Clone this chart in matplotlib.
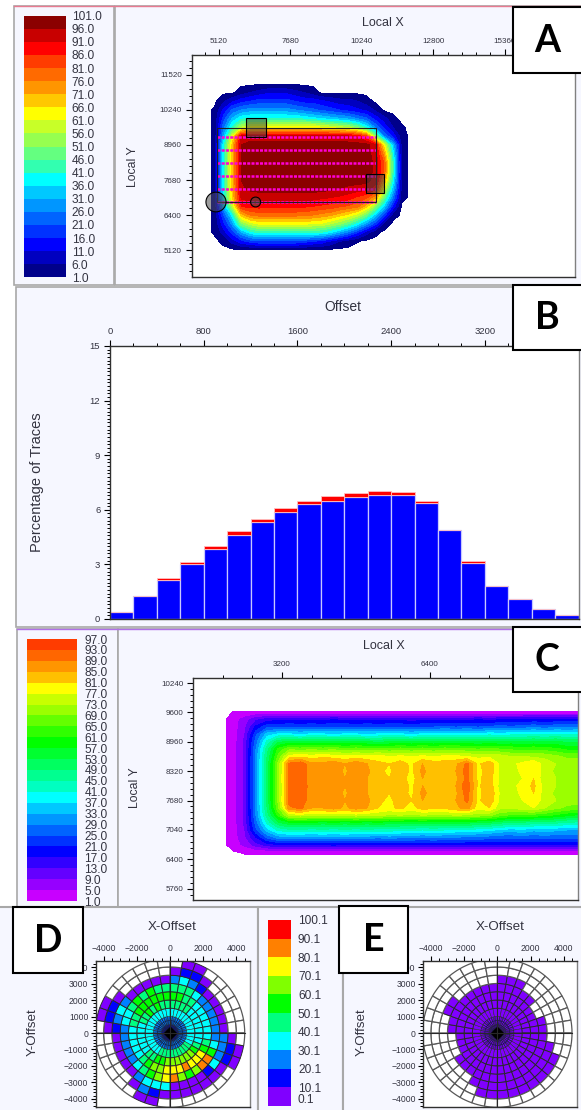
import numpy as np
import matplotlib
matplotlib.use('Agg')
import matplotlib.pyplot as plt
from matplotlib.colors import BoundaryNorm, ListedColormap
from matplotlib.patches import Circle, Rectangle, Wedge
from matplotlib.ticker import MultipleLocator

plt.rcParams['font.family'] = ['Liberation Sans', 'DejaVu Sans']

W, H = 581, 1110
TXT = '#333340'
BG = '#f6f7ff'

# panel A: fold map and legend
a_levels = [1, 6, 11, 16, 21, 26, 31, 36, 41, 46, 51, 56, 61, 66, 71, 76, 81, 86, 91, 96, 101]
a_colors = ['#00008b', '#0000c0', '#0000ff', '#0032ff', '#0064ff', '#0096ff', '#00c8ff',
            '#00ffff', '#32ffb0', '#64ff80', '#96ff50', '#c8ff28', '#ffff00', '#ffc800',
            '#ff9500', '#ff6a00', '#ff3c00', '#ff0000', '#c80000', '#8b0000']
a_x = [4640 + 320 * i for i in range(24)]
a_y = [11200 - 320 * i for i in range(20)]
a_fold = [
    [0] * 24,
    [0, 0, 0, 0, 3, 6, 8, 10, 10, 10, 8, 6, 3, 0, 0, 0, 0, 0, 0, 0, 0, 0, 0, 0],
    [0, 0, 5, 10, 14, 16, 18, 18, 18, 18, 16, 14, 14, 12, 10, 8, 8, 6, 3, 0, 0, 0, 0, 0],
    [0, 1.5, 12, 22, 26, 28, 28, 28, 28, 28, 26, 24, 22, 20, 18, 16, 14, 12, 10, 5, 0, 0, 0, 0],
    [0, 1.5, 18, 32, 40, 42, 42, 42, 42, 42, 42, 40, 38, 36, 34, 32, 30, 26, 22, 14, 8, 2, 0, 0],
    [0, 1.5, 24, 42, 56, 62, 64, 64, 64, 64, 64, 64, 64, 62, 60, 58, 56, 50, 40, 26, 14, 6, 1.5, 0],
    [0, 1.5, 30, 60, 92, 93, 93, 93, 93, 93, 93, 93, 93, 93, 93, 93, 92, 90, 82, 52, 26, 14, 2.5, 0],
    [0, 1.5, 38, 68, 96, 98, 98, 98, 98, 98, 98, 98, 98, 98, 98, 98, 98, 98, 98, 92, 62, 32, 3, 0],
    [0, 1.5, 38, 68, 96, 98, 98, 98, 98, 98, 98, 98, 98, 98, 98, 98, 98, 98, 98, 94, 72, 38, 3, 0],
    [0, 1.5, 38, 68, 96, 98, 98, 98, 98, 98, 98, 98, 98, 98, 98, 98, 98, 98, 98, 95, 80, 42, 3, 0],
    [0, 1.5, 38, 68, 96, 98, 98, 98, 98, 98, 98, 98, 98, 98, 98, 98, 98, 98, 98, 95, 80, 42, 3, 0],
    [0, 1.5, 38, 68, 96, 98, 98, 98, 98, 98, 98, 98, 98, 98, 98, 98, 98, 98, 98, 94, 72, 38, 3, 0],
    [0, 1.5, 38, 68, 95, 97, 98, 98, 98, 98, 98, 98, 98, 98, 97, 96, 95, 94, 93, 88, 60, 32, 3, 0],
    [0, 1.5, 36, 66, 92, 93, 93, 93, 93, 93, 93, 93, 93, 92, 91, 90, 88, 85, 82, 72, 48, 24, 2.5, 0],
    [0, 1.5, 30, 56, 86, 88, 88, 87, 87, 87, 87, 87, 86, 85, 84, 82, 80, 78, 68, 52, 34, 14, 0, 0],
    [0, 1.5, 20, 38, 68, 76, 78, 78, 78, 78, 78, 77, 76, 74, 72, 68, 64, 58, 48, 34, 18, 3, 0, 0],
    [0, 1.5, 14, 28, 50, 58, 62, 62, 62, 62, 62, 62, 61, 60, 56, 52, 46, 38, 28, 18, 4, 0, 0, 0],
    [0, 1.5, 8, 18, 30, 38, 42, 42, 42, 42, 42, 42, 41, 40, 36, 30, 24, 16, 8, 2, 0, 0, 0, 0],
    [0, 0, 2, 8, 14, 18, 20, 20, 20, 20, 20, 18, 16, 14, 10, 6, 3, 1.2, 0, 0, 0, 0, 0, 0],
    [0] * 24,
]
a_src_y = [9250, 8780, 8300, 7830, 7350, 6880]
a_src_x = [5040, 10750]
a_src_top = 9590
a_circle_x = [5012, 6432]
a_circle_y = [6876, 6876]
a_circle_r = [360, 180]
a_box_x = [6088, 10375]
a_box_y = [9253, 7205]
a_box_w = [699, 664]
a_box_h = [694, 695]

# panel B: offset histogram
b_blue = [0.40, 1.27, 2.15, 3.00, 3.83, 4.62, 5.32, 5.89, 6.31, 6.51,
          6.72, 6.83, 6.83, 6.40, 4.88, 3.08, 1.83, 1.08, 0.53, 0.22]
b_red = [0, 0, 0.12, 0.15, 0.19, 0.22, 0.18, 0.20, 0.20, 0.24,
         0.23, 0.20, 0.14, 0.11, 0, 0.12, 0, 0, 0, 0]
b_left = [200 * i for i in range(20)]

# panel C: fold map and legend
c_levels = [1, 5, 9, 13, 17, 21, 25, 29, 33, 37, 41, 45, 49, 53, 57, 61, 65, 69, 73, 77, 81, 85, 89, 93, 97]
c_colors = ['#c800ff', '#9600ff', '#6400ff', '#3200ff', '#0000ff', '#0032ff', '#0064ff', '#0096ff',
            '#00c8ff', '#00ffff', '#00ffc0', '#00ff90', '#00ff60', '#00ff30', '#00ff00', '#30ff00',
            '#64ff00', '#9bff00', '#c8ff00', '#ffff00', '#ffc000', '#ff9500', '#ff6600', '#ff3c00']
c_x = [1920 + 240 * i for i in range(33)]
c_y = [9760 - 160 * i for i in range(22)]
c_fold = [
    [0] * 33,
    [0] + [1.2] * 32,
    [0, 3, 7, 12, 15, 16, 16, 16, 16, 16, 17, 16, 16, 16, 16, 16, 16, 15, 16, 16, 16, 16, 16, 17, 16, 17, 17, 17, 18, 18, 18, 18, 18],
    [0, 3, 8, 18, 24, 24, 25, 24, 25, 24, 25, 25, 24, 25, 24, 25, 25, 24, 25, 25, 26, 25, 26, 25, 26, 27, 26, 27, 28, 27, 28, 28, 28],
    [0, 3, 9, 24, 35, 38, 38, 37, 38, 38, 37, 38, 38, 37, 38, 38, 38, 37, 38, 38, 39, 38, 39, 38, 40, 39, 40, 40, 41, 40, 41, 40, 41],
    [0, 3, 10, 27, 42, 52, 54, 53, 54, 53, 54, 53, 54, 53, 52, 53, 54, 53, 54, 53, 54, 53, 54, 53, 54, 53, 54, 53, 54, 53, 54, 52, 52],
    [0, 3, 10, 29, 47, 62, 68, 67, 68, 67, 68, 66, 67, 66, 67, 66, 67, 66, 67, 66, 67, 67, 66, 65, 66, 65, 64, 63, 64, 63, 62, 60, 60],
    [0, 3, 10, 30, 49, 66, 79, 80, 79, 80, 79, 78, 79, 78, 79, 77, 78, 77, 78, 77, 78, 78, 77, 76, 76, 75, 73, 73, 72, 72, 70, 68, 68],
    [0, 3, 10, 30, 50, 70, 90, 92, 86, 86, 88, 85, 88, 85, 82, 81, 83, 80, 85, 83, 83, 84, 90, 80, 84, 76, 76, 78, 81, 75, 73, 72, 71],
    [0, 3, 10, 30, 50, 70, 90, 93, 86, 87, 88, 84, 88, 86, 82, 80, 84, 80, 86, 82, 83, 85, 91, 79, 84, 76, 75, 78, 80, 75, 72, 71, 70],
    [0, 3, 10, 30, 50, 70, 91, 92, 86, 86, 89, 85, 88, 85, 83, 81, 83, 79, 85, 83, 84, 84, 90, 80, 83, 76, 76, 77, 81, 74, 73, 72, 71],
    [0, 3, 10, 30, 50, 70, 90, 92, 87, 86, 88, 85, 89, 85, 82, 81, 84, 80, 85, 84, 83, 85, 92, 80, 84, 75, 76, 78, 82, 75, 73, 71, 70],
    [0, 3, 10, 30, 50, 70, 90, 93, 86, 86, 88, 84, 88, 85, 83, 81, 83, 80, 86, 83, 83, 84, 91, 79, 85, 76, 75, 78, 81, 75, 72, 72, 71],
    [0, 3, 10, 30, 50, 70, 91, 92, 86, 87, 88, 85, 88, 86, 82, 80, 83, 81, 85, 83, 84, 85, 90, 80, 84, 76, 76, 77, 80, 75, 73, 71, 70],
    [0, 3, 10, 30, 49, 68, 88, 90, 85, 85, 87, 84, 87, 85, 81, 80, 82, 79, 83, 82, 82, 84, 87, 78, 81, 74, 74, 75, 77, 73, 70, 68, 68],
    [0, 3, 10, 29, 47, 62, 74, 75, 74, 75, 74, 74, 75, 74, 74, 72, 73, 72, 73, 72, 72, 73, 72, 71, 70, 66, 64, 64, 63, 62, 60, 58, 56],
    [0, 3, 10, 27, 42, 52, 56, 56, 56, 55, 56, 55, 56, 55, 56, 55, 55, 54, 55, 54, 55, 54, 54, 53, 52, 50, 48, 48, 47, 46, 46, 44, 44],
    [0, 3, 9, 24, 35, 42, 44, 44, 43, 44, 43, 44, 43, 44, 43, 43, 42, 42, 41, 42, 41, 40, 40, 39, 38, 36, 35, 36, 34, 35, 34, 33, 33],
    [0, 3, 8, 17, 26, 31, 32, 32, 31, 32, 31, 32, 31, 31, 30, 31, 30, 30, 29, 30, 29, 29, 28, 28, 27, 26, 26, 27, 26, 27, 26, 26, 26],
    [0, 3, 6, 11, 15, 17, 17, 17, 17, 17, 18, 17, 17, 17, 17, 17, 17, 17, 17, 17, 17, 17, 17, 17, 17, 17, 17, 17, 17, 17, 17, 17, 17],
    [0, 0.8, 1.4, 1.6, 1.6, 1.6, 1.6, 1.6, 1.6, 1.6, 1.6, 1.6, 1.6, 1.6, 1.6, 1.6, 1.6, 1.6, 1.6, 1.6, 1.6, 1.6, 1.6, 1.6, 1.6, 1.6, 1.6, 1.6, 1.6, 1.6, 1.6, 1.6, 1.6],
    [0] * 33,
]

# panels D and E: offset/azimuth rose, 36 sectors clockwise from north, inner ring first
rose_levels = [0.1, 10.1, 20.1, 30.1, 40.1, 50.1, 60.1, 70.1, 80.1, 90.1, 100.1]
rose_colors = ['#8000ff', '#0000ff', '#0080ff', '#00ffff', '#00ff80',
               '#00ff00', '#80ff00', '#ffff00', '#ff8000', '#ff0000']
d_ring0 = [15] * 36
d_ring1 = [25] * 36
d_ring2 = [35, 35, 35, 35, 35, 35, 35, 35, 35, 35, 35, 35, 45, 45, 45, 45, 45, 45,
           45, 45, 45, 35, 35, 35, 35, 35, 35, 35, 35, 35, 35, 35, 35, 35, 35, 35]
d_ring3 = [45, 45, 45, 45, 35, 35, 35, 35, 35, 35, 35, 45, 55, 65, 65, 65, 65, 65,
           65, 55, 55, 45, 45, 35, 35, 35, 35, 35, 35, 45, 45, 55, 45, 55, 45, 45]
d_ring4 = [55, 55, 45, 45, 35, 35, 35, 35, 35, 35, 45, 55, 75, 75, 75, 85, 75, 75,
           75, 65, 65, 55, 45, 35, 35, 35, 35, 35, 45, 45, 55, 55, 55, 55, 55, 55]
d_ring5 = [45, 45, 45, 35, 25, 25, 25, 25, 25, 25, 35, 55, 85, 85, 65, 55, 65, 85,
           75, 65, 55, 45, 35, 25, 25, 25, 25, 25, 35, 35, 45, 55, 45, 55, 45, 45]
d_ring6 = [25, 35, 25, 15, 5, 5, 5, 5, 5, 25, 25, 25, 35, 15, 5, 5, 5, 5,
           35, 35, 35, 25, 5, 5, 5, 5, 5, 15, 25, 35, 25, 5, 5, 5, 5, 5]
d_ring7 = [5, 15, 15, 5, 0, 0, 0, 0, 0, 5, 15, 15, 5, 5, 5, 5, 5, 5,
           5, 15, 25, 5, 0, 0, 0, 0, 0, 5, 15, 15, 5, 0, 0, 0, 0, 0]
d_ring8 = [0, 5, 5, 0, 0, 0, 0, 0, 0, 0, 5, 5, 0, 0, 0, 0, 0, 0,
           0, 5, 5, 0, 0, 0, 0, 0, 0, 0, 5, 5, 0, 0, 0, 0, 0, 0]
e_filled = [7, 7, 7, 6, 6, 5, 5, 6, 6, 6, 7, 8, 8, 8, 8, 8, 8, 8,
            8, 8, 7, 6, 6, 6, 5, 5, 5, 6, 6, 7, 7, 6, 6, 6, 6, 6]


def ax_px(left, top, right, bottom, **kw):
    return fig.add_axes([left / W, 1 - bottom / H, (right - left) / W, (bottom - top) / H], **kw)


def frame(l, t, r, b, color='#a8a8a8', lw=1.2, face=BG, z=1):
    base.add_patch(Rectangle((l, t), r - l, b - t, fc=face, ec=color, lw=lw, zorder=z))


def legend_bar(left, top, right, bottom, levels, colors, label_pad, size):
    ax = ax_px(left, top, right, bottom)
    centers = [(levels[i] + levels[i + 1]) / 2 for i in range(len(colors))]
    ax.barh(centers, 1, height=levels[1] - levels[0], color=colors, lw=0)
    ax.set_xlim(0, 1)
    ax.set_ylim(levels[0], levels[-1])
    ax.set_xticks([])
    ax.yaxis.tick_right()
    ax.set_yticks(levels)
    ax.set_yticklabels(['%.1f' % v for v in levels])
    ax.tick_params(length=0, pad=label_pad, labelsize=size, labelcolor=TXT)
    for s in ax.spines.values():
        s.set_visible(False)
    return ax


def style_axes(ax, xmajor, xminor, ymajor, yminor, size=5.8):
    ax.xaxis.tick_top()
    ax.set_xticks(xmajor)
    ax.set_yticks(ymajor)
    ax.xaxis.set_minor_locator(MultipleLocator(xminor))
    ax.yaxis.set_minor_locator(MultipleLocator(yminor))
    ax.tick_params(which='major', length=4, width=0.8, labelsize=size, labelcolor=TXT, pad=3)
    ax.tick_params(which='minor', length=2.2, width=0.7)
    for s in ax.spines.values():
        s.set_linewidth(1.0)
        s.set_color('#303030')
    ax.spines['right'].set_color('#808080')


def rose(ax, rings):
    cmap = ListedColormap(rose_colors)
    norm = BoundaryNorm(rose_levels, cmap.N)
    for j, ring in enumerate(rings):
        for k, v in enumerate(ring):
            color = cmap(norm(v)) if v > 0 else 'white'
            edge = '#282828' if v > 0 else '#585858'
            width = (0.35 if j < 3 else 0.65) if v > 0 else 0.9
            ax.add_patch(Wedge((0, 0), (j + 1) * 500, 90 - (k + 1) * 10, 90 - k * 10, width=500,
                               fc=color, ec=edge, lw=width))
    # the fine spokes and circles bunched around the centre
    for a in np.arange(0, 360, 7.5):
        ax.plot([0, 1000 * np.cos(np.radians(a))], [0, 1000 * np.sin(np.radians(a))],
                color='#101840', lw=0.35)
    for r in [250, 750]:
        ax.add_patch(Circle((0, 0), r, fc='none', ec='#101840', lw=0.45))
    ax.plot([0], [0], marker='D', ms=6.5, color='black')
    ax.plot([-4500, 4500], [0, 0], color='#282828', lw=0.8)
    ax.plot([0, 0], [-4500, 4500], color='#282828', lw=0.8)
    ax.set_xlim(-4458, 4819)
    ax.set_ylim(-4467, 4364)
    style_axes(ax, [-4000, -2000, 0, 2000, 4000], 500,
               [-4000, -3000, -2000, -1000, 0, 1000, 2000, 3000, 4000], 200, size=6.2)
    ax.tick_params(which='major', pad=2, length=3.5)


fig = plt.figure(figsize=(W / 100, H / 100), dpi=100, facecolor='white')
base = fig.add_axes([0, 0, 1, 1])
base.set_xlim(0, W)
base.set_ylim(H, 0)
base.axis('off')

# panel backgrounds
frame(14, 6, 113.5, 285)
frame(115, 6, 584, 285)
base.plot([14, 581], [6, 6], color='#e87a90', lw=1)
frame(15.5, 287, 584, 627)
frame(17, 629, 117.5, 907)
frame(117.5, 629, 584, 907)
base.plot([17, 581], [629, 629], color='#b070e8', lw=1)
frame(-3, 907, 257.7, 1114, lw=1.5)
frame(257.7, 907, 342.7, 1114, lw=1.5)
frame(342.7, 907, 584, 1114, lw=1.5)

# A
legend_bar(23.7, 15.7, 66, 277.3, a_levels, a_colors, 4, 8.6)
ax = ax_px(191.5, 55, 575, 277)
ax.contourf(a_x, a_y, a_fold, levels=a_levels, colors=a_colors)
for x, y, w, h in zip(a_box_x, a_box_y, a_box_w, a_box_h):
    ax.add_patch(Rectangle((x, y), w, h, fc=(0.25, 0.25, 0.25, 0.5), ec='black', lw=0.8, zorder=4))
for x, y, r in zip(a_circle_x, a_circle_y, a_circle_r):
    ax.add_patch(Circle((x, y), r, fc=(0.3, 0.3, 0.3, 0.55), ec='black', lw=0.8, zorder=4))
for y in a_src_y:
    ax.plot(a_src_x, [y, y], color='#ff00d8', lw=1.8, ls=(0, (1.2, 0.5)), zorder=3)
ax.add_patch(Rectangle((a_src_x[0], a_src_y[-1]), a_src_x[1] - a_src_x[0], a_src_top - a_src_y[-1],
                       fc='none', ec='#202020', lw=0.8, zorder=3))
ax.set_xlim(4134, 17880)
ax.set_ylim(4134, 12250)
style_axes(ax, [5120, 7680, 10240, 12800, 15360], 512, [5120, 6400, 7680, 8960, 10240, 11520], 256)
base.text(382.6, 22.7, 'Local X', ha='center', va='center', fontsize=9, color=TXT)
base.text(132.6, 166.7, 'Local Y', ha='center', va='center', rotation=90, fontsize=8.8, color=TXT)

# B
ax = ax_px(110, 346, 578.5, 619)
ax.bar(b_left, b_blue, width=200, align='edge', color='#0000ff', edgecolor='#c8c8ff', lw=0.9)
ax.bar(b_left, b_red, bottom=b_blue, width=200, align='edge', color='#ff0000', edgecolor='#ffc0c0', lw=0.6)
ax.set_xlim(0, 4000)
ax.set_ylim(0, 15)
style_axes(ax, [0, 800, 1600, 2400, 3200], 200, [0, 3, 6, 9, 12, 15], 0.2, size=6.8)
base.text(343, 307, 'Offset', ha='center', va='center', fontsize=10, color=TXT)
base.text(37, 482, 'Percentage of Traces', ha='center', va='center', rotation=90, fontsize=10.5, color=TXT)

# C
legend_bar(26.7, 639, 76.7, 901, c_levels, c_colors, 5.5, 8.6)
ax = ax_px(193.3, 678, 578, 900)
ax.contourf(c_x, c_y, c_fold, levels=c_levels, colors=c_colors)
ax.set_xlim(1285, 9600)
ax.set_ylim(5514, 10349)
style_axes(ax, [3200, 6400], 640, [5760, 6400, 7040, 7680, 8320, 8960, 9600, 10240], 128)
base.text(384, 645.7, 'Local X', ha='center', va='center', fontsize=9, color=TXT)
base.text(135, 788, 'Local Y', ha='center', va='center', rotation=90, fontsize=8.8, color=TXT)

# D and E
d_rings = [d_ring0, d_ring1, d_ring2, d_ring3, d_ring4, d_ring5, d_ring6, d_ring7, d_ring8]
e_rings = [[5 if n > j else 0 for n in e_filled] for j in range(9)]
rose(ax_px(96, 961, 250, 1106.7), d_rings)
rose(ax_px(423.3, 961, 577.3, 1106.7), e_rings)
rose_bar = legend_bar(268.3, 920, 291, 1106, rose_levels, rose_colors, 5, 8.6)
rose_bar.get_yticklabels()[0].set_va('bottom')
base.text(172, 927, 'X-Offset', ha='center', va='center', fontsize=9.6, color=TXT)
base.text(33, 1032, 'Y-Offset', ha='center', va='center', rotation=90, fontsize=9.6, color=TXT)
base.text(500, 927, 'X-Offset', ha='center', va='center', fontsize=9.6, color=TXT)
base.text(361.7, 1032, 'Y-Offset', ha='center', va='center', rotation=90, fontsize=9.6, color=TXT)

# letter boxes sit on top of everything
top = fig.add_axes([0, 0, 1, 1], zorder=20)
top.set_xlim(0, W)
top.set_ylim(H, 0)
top.axis('off')
for name, l, t, r, b in [('A', 513, 7, 584, 73), ('B', 513, 285, 584, 350), ('C', 513, 627, 584, 692),
                         ('D', 13, 907, 83, 973), ('E', 339, 906, 408, 973)]:
    top.add_patch(Rectangle((l, t), r - l, b - t, fc='white', ec='black', lw=1.5))
    top.text(min(r, 581) / 2 + l / 2, (t + b) / 2 + 0.5, name, ha='center', va='center', fontsize=27,
             fontweight='bold', family=['Lato', 'DejaVu Sans'], color='black')

fig.savefig('out.png', dpi=100)
